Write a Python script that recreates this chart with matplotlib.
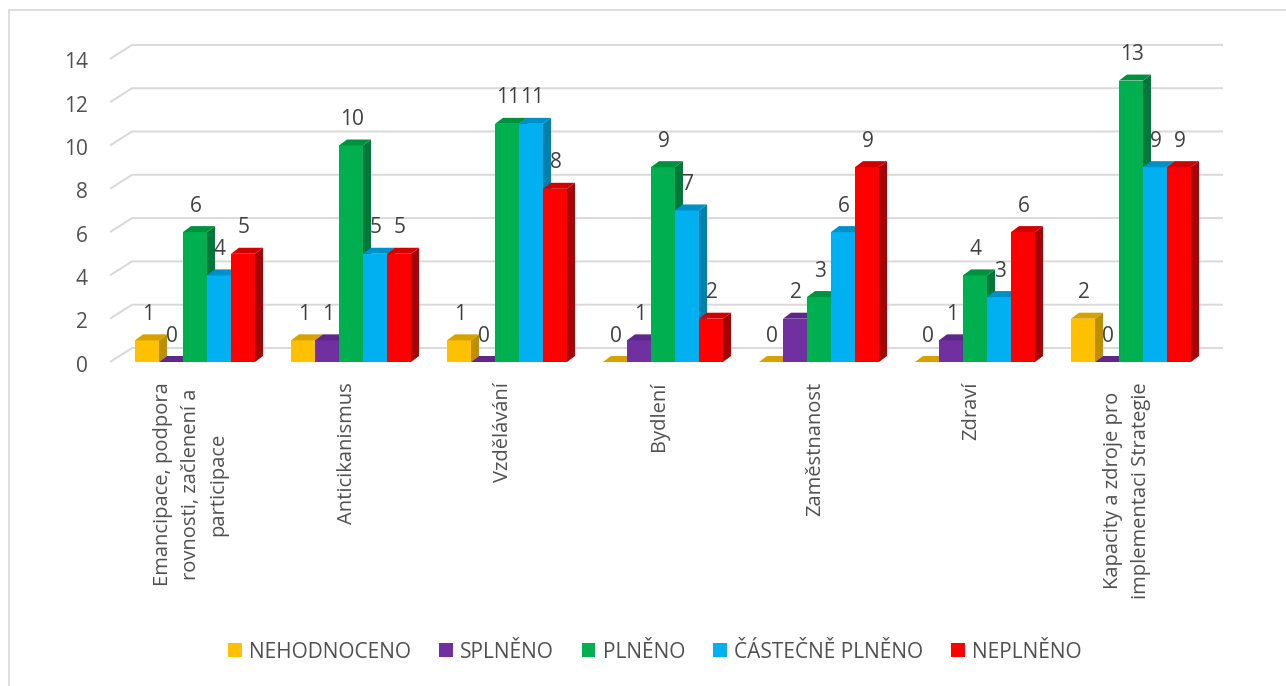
import numpy as np
import matplotlib.pyplot as plt
from matplotlib.patches import Polygon, Patch, Rectangle

plt.rcParams['font.family'] = ['Open Sans', 'DejaVu Sans']

kategorie = ["Emancipace, podpora\nrovnosti, začlenení a\nparticipace", "Anticikanismus", "Vzdělávání",
             "Bydlení", "Zaměstnanost", "Zdraví", "Kapacity a zdroje pro\nimplementaci Strategie"]
serie = ["NEHODNOCENO", "SPLNĚNO", "PLNĚNO", "ČÁSTEČNĚ PLNĚNO", "NEPLNĚNO"]
nehodnoceno = [1, 1, 1, 0, 0, 0, 2]
splneno = [0, 1, 0, 1, 2, 1, 0]
plneno = [6, 10, 11, 9, 3, 4, 13]
castecne = [4, 5, 11, 7, 6, 3, 9]
neplneno = [5, 5, 8, 2, 9, 6, 9]
hodnoty = [nehodnoceno, splneno, plneno, castecne, neplneno]
y_ticks = [0, 2, 4, 6, 8, 10, 12, 14]

barvy = ['#FFC000', '#7030A0', '#00B050', '#00B0F0', '#FF0000']
boky = ['#BC8E00', '#4F2272', '#00783A', '#0080AE', '#A80000']
vrchy = ['#D6A200', '#5E288A', '#00913F', '#0090C8', '#D20000']

W, H = 1286, 686
fig = plt.figure(figsize=(W / 100, H / 100), dpi=100)
ax = fig.add_axes([0, 0, 1, 1])
ax.axis('off')

# pixel mapping: category spacing 156 px, 21.65 px per unit, zero line at y=362 px
px_x = 156.0
px_y = 21.65
x0_px, y0_px = 195, 362
ax.set_xlim(-x0_px / px_x, (W - x0_px) / px_x)
ax.set_ylim(-(H - y0_px) / px_y, y0_px / px_y)

def fx(px):
    return px / px_x

def fy(px):
    return px / px_y

# back wall gridlines with the 3D floor diagonal
gdx, gdy = fx(22), fy(14)
gx_front = fx(110 - x0_px)
gx_right = fx(1223 - x0_px)
for v in y_ticks:
    ax.plot([gx_front, gx_front + gdx, gx_right], [v, v + gdy, v + gdy],
            color='#D9D9D9', lw=1.4, zorder=1, solid_capstyle='butt')
    ax.text(fx(88 - x0_px), v + fy(-4), str(v), ha='right', va='center',
            fontsize=15, color='#505050')

# bars with side and top faces
bw = fx(24)
ddx, ddy = fx(8), fy(6)
z = 2
for i in range(len(kategorie)):
    for k in range(len(serie)):
        v = hodnoty[k][i]
        left = i + (k - 2.5) * bw
        right = left + bw
        ax.bar(left, v, width=bw, align='edge', color=barvy[k], zorder=z, lw=0)
        side = [(right, 0), (right + ddx, ddy), (right + ddx, v + ddy), (right, v)]
        top = [(left, v), (left + ddx, v + ddy), (right + ddx, v + ddy), (right, v)]
        ax.add_patch(Polygon(side, closed=True, facecolor=boky[k], lw=0, zorder=z))
        ax.add_patch(Polygon(top, closed=True, facecolor=vrchy[k], lw=0, zorder=z))
        z += 1
        ax.text(left + bw / 2 + fx(1), v + fy(26), str(v), ha='center', va='center',
                fontsize=15, color='#404040', zorder=200)

for i, nazev in enumerate(kategorie):
    ax.text(i - fx(4), fy(-20), nazev, rotation=90, ha='center', va='top',
            multialignment='center', fontsize=14.5, color='#505050', linespacing=1.5)

# legend
handles = [Patch(facecolor=c, edgecolor='none') for c in barvy]
fig.legend(handles, serie, loc='center', bbox_to_anchor=(655 / W, 34 / H), ncol=5,
           frameon=False, fontsize=15, handlelength=0.65, handleheight=0.65,
           handletextpad=0.35, columnspacing=1.35, labelcolor='#505050')

# chart border
fig.patches.append(Rectangle((9 / W, -0.02), 1.1, 1 - 10 / H + 0.02, transform=fig.transFigure,
                             fill=False, edgecolor='#D9D9D9', lw=1.2))

fig.savefig('out.png', dpi=100, facecolor='white')
